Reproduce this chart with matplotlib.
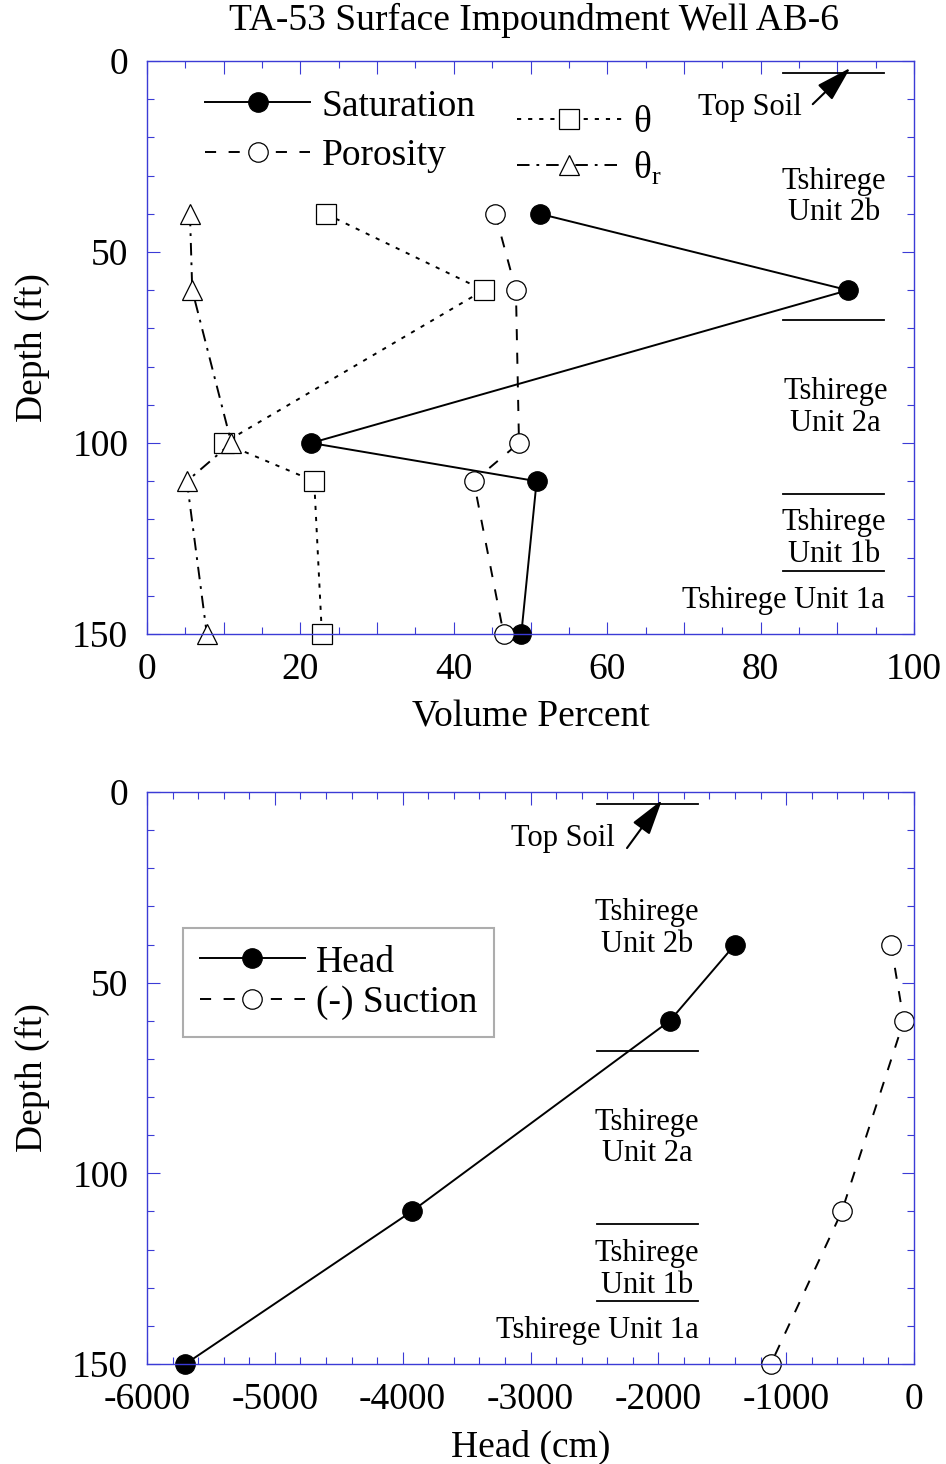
import numpy as np
import matplotlib
matplotlib.use('Agg')
import matplotlib.pyplot as plt
from matplotlib.ticker import MultipleLocator, FuncFormatter

plt.rcParams['font.family'] = ['Liberation Serif', 'DejaVu Serif']
plt.rcParams['mathtext.fontset'] = 'custom'
plt.rcParams['mathtext.rm'] = 'Liberation Serif'
plt.rcParams['lines.scale_dashes'] = False

BLUE = '#3b3bd6'
FS = 27
AFS = 22

# ---- data: top panel (volume percent vs depth) ----
depth_top = [40, 60, 100, 110, 150]
saturation = [51.2, 91.4, 21.4, 50.8, 48.8]
porosity = [45.4, 48.1, 48.5, 42.6, 46.5]
theta = [23.3, 43.9, 10.0, 21.8, 22.8]
theta_r = [5.6, 5.9, 11.0, 5.2, 7.8]

# ---- data: bottom panel (head vs depth) ----
depth_head = [40, 60, 110, 150]
head = [-1400, -1910, -3930, -5700]
depth_suction = [40, 60, 110, 150]
suction = [-180, -80, -565, -1120]

# formation boundaries (depth, ft)
boundaries = [3.1, 67.9, 113.3, 133.5]

fig = plt.figure(figsize=(9.46, 14.64), dpi=100)
ax1 = fig.add_axes([147/946, 1-634/1464, 767/946, 573/1464])
ax2 = fig.add_axes([147/946, 1-1364/1464, 767/946, 572/1464])


def style_axes(ax):
    for s in ax.spines.values():
        s.set_color(BLUE)
        s.set_linewidth(1.0)
    ax.tick_params(which='both', direction='in', top=True, right=True,
                   color=BLUE, width=0.8, labelsize=FS)
    ax.tick_params(which='major', length=9)
    ax.tick_params(which='minor', length=5)
    ax.tick_params(axis='x', pad=13.5)
    ax.tick_params(axis='y', pad=13.5)


mk = dict(markersize=14, markeredgewidth=0.9, markeredgecolor='black', color='black', lw=1.4)
arrow = dict(arrowstyle='-|>,head_length=0.55,head_width=0.16', mutation_scale=40,
             lw=1.5, color='black', shrinkA=0, shrinkB=0)

# ---------------- top panel ----------------
l1, = ax1.plot(saturation, depth_top, '-o', markerfacecolor='black', label='Saturation', **mk)
l2, = ax1.plot(porosity, depth_top, '--o', markerfacecolor='white', dashes=(8, 9), label='Porosity', **mk)
l3, = ax1.plot(theta, depth_top, ':s', markerfacecolor='white', dashes=(3, 5), label='θ', **mk)
l4, = ax1.plot(theta_r, depth_top, '-.^', markerfacecolor='white', dashes=(9, 5, 2, 5), label='θ$_\\mathrm{r}$', **mk)
for l in (l1, l2, l3, l4):
    l.set_clip_on(False)

ax1.set_xlim(0, 100)
ax1.set_ylim(150, 0)
ax1.xaxis.set_major_locator(MultipleLocator(10))
ax1.xaxis.set_minor_locator(MultipleLocator(5))
ax1.xaxis.set_major_formatter(FuncFormatter(lambda v, p: f'{v:.0f}' if round(v) % 20 == 0 else ''))
ax1.yaxis.set_major_locator(MultipleLocator(50))
ax1.yaxis.set_minor_locator(MultipleLocator(10))
style_axes(ax1)
ax1.set_xlabel('Volume Percent', fontsize=FS, labelpad=9)
ax1.set_ylabel('Depth (ft)', fontsize=FS, labelpad=16)

leg1 = ax1.legend(handles=[l1, l2], loc='upper left', bbox_to_anchor=(0.076, 0.951),
                  frameon=False, fontsize=FS, handlelength=2.8, handletextpad=0.3,
                  labelspacing=0.4, borderaxespad=0, borderpad=0)
ax1.add_artist(leg1)
ax1.legend(handles=[l3, l4], loc='upper left', bbox_to_anchor=(0.482, 0.922),
           frameon=False, fontsize=FS, handlelength=2.8, handletextpad=0.3,
           labelspacing=0.25, borderaxespad=0, borderpad=0)

# formation annotations (top)
for d in boundaries:
    ax1.plot([82.9, 96.1], [d, d], color='black', lw=1.3)
ax1.annotate('', xy=(91.7, 1.8), xytext=(86.8, 11.3), arrowprops=arrow)
ax1.text(78.6, 12.3, 'Top Soil', fontsize=AFS, ha='center', va='center')
ax1.text(89.6, 35.5, 'Tshirege\nUnit 2b', fontsize=AFS, ha='center', va='center', linespacing=1.1)
ax1.text(89.8, 90.7, 'Tshirege\nUnit 2a', fontsize=AFS, ha='center', va='center', linespacing=1.1)
ax1.text(89.6, 125.0, 'Tshirege\nUnit 1b', fontsize=AFS, ha='center', va='center', linespacing=1.1)
ax1.text(83.0, 141.2, 'Tshirege Unit 1a', fontsize=AFS, ha='center', va='center')

# ---------------- bottom panel ----------------
h1, = ax2.plot(head, depth_head, '-o', markerfacecolor='black', label='Head', **mk)
h2, = ax2.plot(suction, depth_suction, '--o', markerfacecolor='white', dashes=(8, 9), label='(-) Suction', **mk)
for l in (h1, h2):
    l.set_clip_on(False)

ax2.set_xlim(-6000, 0)
ax2.set_ylim(150, 0)
ax2.xaxis.set_major_locator(MultipleLocator(1000))
ax2.xaxis.set_minor_locator(MultipleLocator(200))
ax2.yaxis.set_major_locator(MultipleLocator(50))
ax2.yaxis.set_minor_locator(MultipleLocator(10))
ax2.xaxis.set_major_formatter(FuncFormatter(lambda v, p: f'{v:.0f}'))
style_axes(ax2)
ax2.set_xlabel('Head (cm)', fontsize=FS, labelpad=9)
ax2.set_ylabel('Depth (ft)', fontsize=FS, labelpad=16)

leg2 = ax2.legend(handles=[h1, h2], loc='upper left', bbox_to_anchor=(0.047, 0.762),
                  frameon=True, fancybox=False, edgecolor='#999999', fontsize=FS,
                  handlelength=2.8, handletextpad=0.3, labelspacing=0.15,
                  borderaxespad=0, borderpad=0.45)
leg2.get_frame().set_linewidth(1.5)

for d in boundaries:
    ax2.plot([-2480, -1690], [d, d], color='black', lw=1.3)
ax2.annotate('', xy=(-1971, 2.1), xytext=(-2245, 14.7), arrowprops=arrow)
ax2.text(-2746, 12.1, 'Top Soil', fontsize=AFS, ha='center', va='center')
ax2.text(-2089, 35.8, 'Tshirege\nUnit 2b', fontsize=AFS, ha='center', va='center', linespacing=1.1)
ax2.text(-2089, 90.8, 'Tshirege\nUnit 2a', fontsize=AFS, ha='center', va='center', linespacing=1.1)
ax2.text(-2089, 125.2, 'Tshirege\nUnit 1b', fontsize=AFS, ha='center', va='center', linespacing=1.1)
ax2.text(-2480, 141.2, 'Tshirege Unit 1a', fontsize=AFS, ha='center', va='center')

fig.text(534/946, 1-20/1464, 'TA-53 Surface Impoundment Well AB-6', fontsize=FS,
         ha='center', va='center')

fig.savefig('out.png', dpi=100)
